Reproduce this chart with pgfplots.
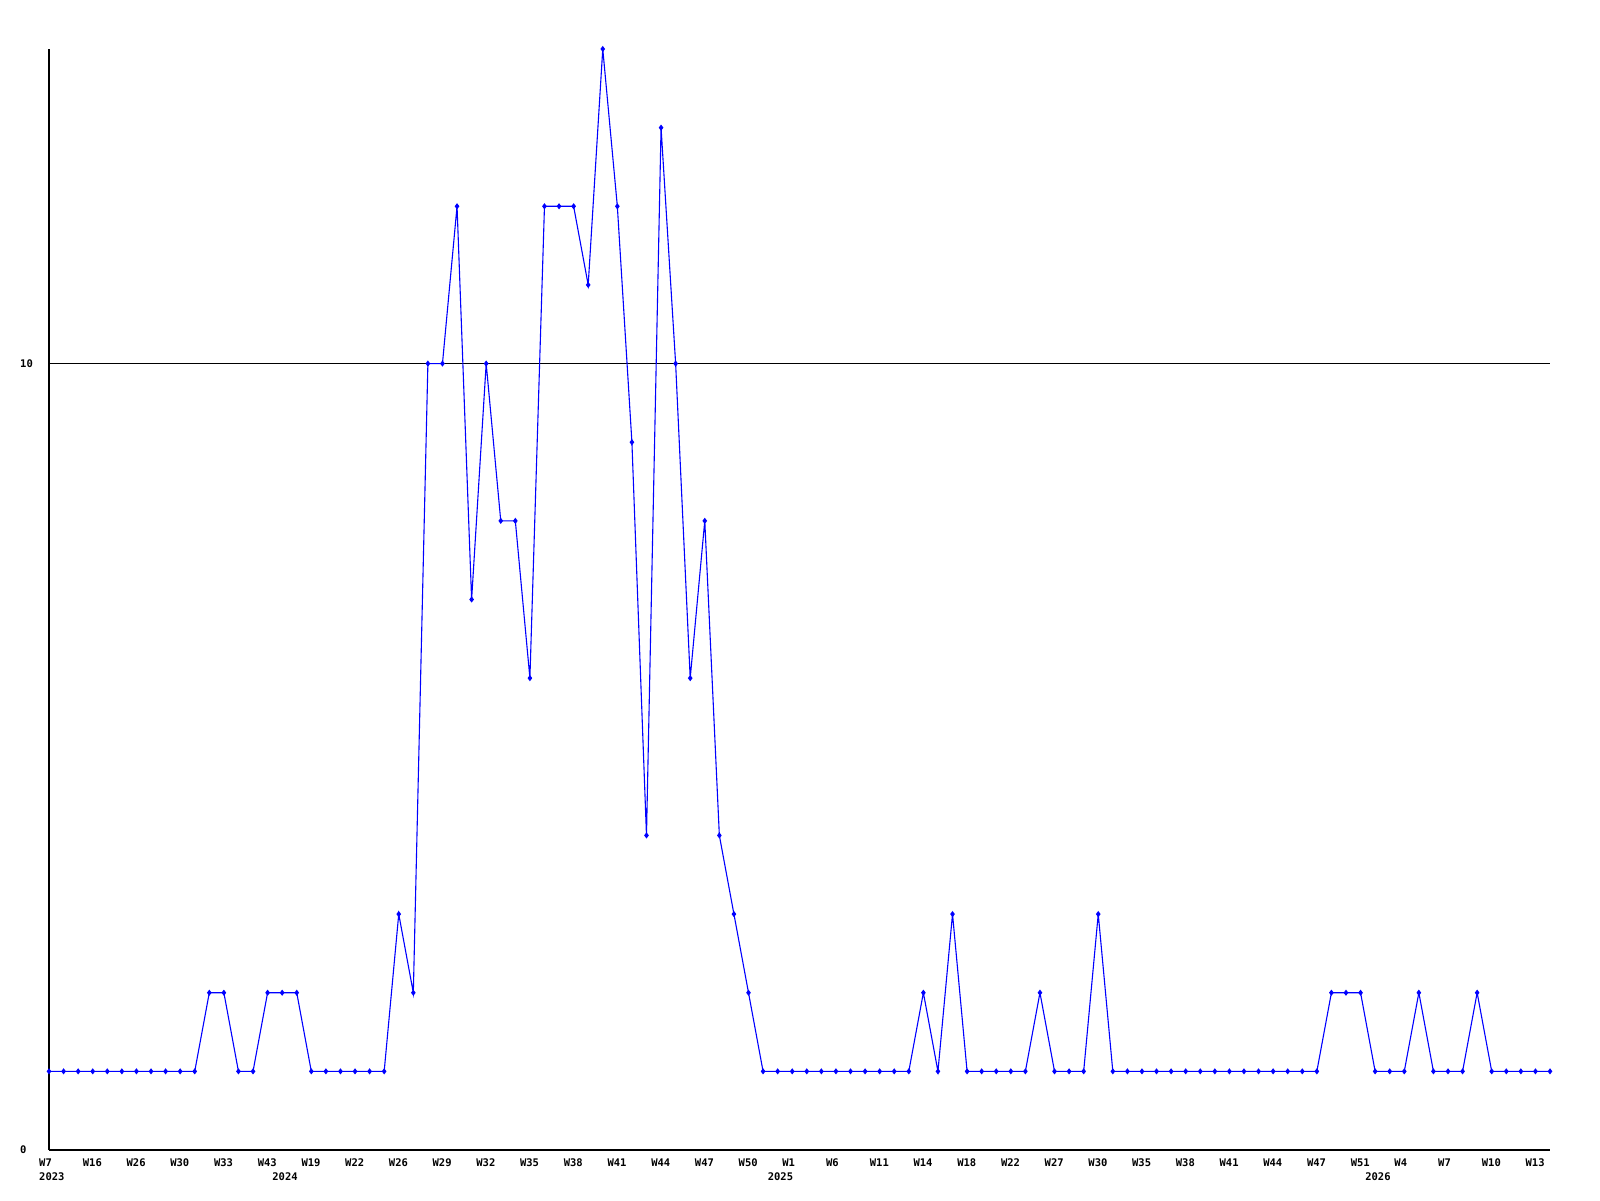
\documentclass[border=0pt]{standalone}
\usepackage{pgfplots}
\pgfplotsset{compat=1.18}
\usepackage{fontspec}
\setmainfont{DejaVu Sans Mono}
\begin{document}
\begin{tikzpicture}[x=1pt,y=1pt]
\path[use as bounding box] (0,0) rectangle (1600,1200);
\begin{axis}[
  at={(49pt,50pt)}, anchor=south west,
  scale only axis, width=1501pt, height=1101pt,
  xmin=0, xmax=103, ymin=0, ymax=14,
  axis x line*=bottom, axis y line*=left,
  axis line style={black, line width=1.1pt, -},
  clip=false,
  major tick length=0pt,
  ytick={0,10}, yticklabels={0,10},
  ymajorgrids, grid style={black, line width=1.1pt},
  xtick={0,3,...,102},
  xticklabels={W7,W16,W26,W30,W33,W43,W19,W22,W26,W29,W32,W35,W38,W41,W44,W47,W50,W1,W6,W11,W14,W18,W22,W27,W30,W35,W38,W41,W44,W47,W51,W4,W7,W10,W13},
  ticklabel style={font=\fontsize{10.5}{12}\selectfont\bfseries, inner sep=0pt},
  yticklabel style={anchor=west, xshift=-29pt},
  xticklabel style={anchor=north west, xshift=-10pt, yshift=-9pt},
  extra x ticks={0,16,50,91},
  extra x tick labels={2023,2024,2025,2026},
  extra x tick style={grid=none, major tick length=0pt, xticklabel style={yshift=-14pt}},
]
\addplot[blue, line width=1.1pt, mark=diamond*, mark size=2.2pt, mark options={blue}] coordinates {
(0,1)(1,1)(2,1)(3,1)(4,1)(5,1)(6,1)(7,1)(8,1)(9,1)(10,1)
(11,2)(12,2)(13,1)(14,1)(15,2)(16,2)(17,2)
(18,1)(19,1)(20,1)(21,1)(22,1)(23,1)
(24,3)(25,2)(26,10)(27,10)(28,12)(29,7)(30,10)(31,8)(32,8)(33,6)
(34,12)(35,12)(36,12)(37,11)(38,14)(39,12)(40,9)(41,4)(42,13)(43,10)
(44,6)(45,8)(46,4)(47,3)(48,2)
(49,1)(50,1)(51,1)(52,1)(53,1)(54,1)(55,1)(56,1)(57,1)(58,1)(59,1)
(60,2)(61,1)(62,3)(63,1)(64,1)(65,1)(66,1)(67,1)(68,2)(69,1)(70,1)(71,1)
(72,3)(73,1)(74,1)(75,1)(76,1)(77,1)(78,1)(79,1)(80,1)(81,1)(82,1)(83,1)
(84,1)(85,1)(86,1)(87,1)(88,2)(89,2)(90,2)(91,1)(92,1)(93,1)(94,2)
(95,1)(96,1)(97,1)(98,2)(99,1)(100,1)(101,1)(102,1)(103,1)
};
\end{axis}
\end{tikzpicture}
\end{document}
